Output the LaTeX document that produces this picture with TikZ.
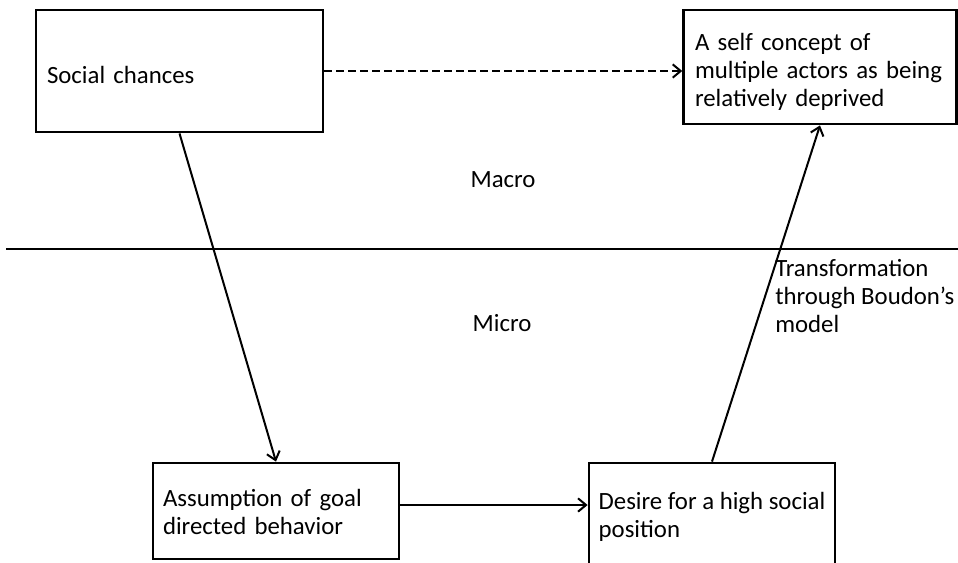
\documentclass[tikz,border=0pt]{standalone}
\usepackage{fontspec}
\setmainfont{Carlito}
\usepackage{tikz}
\usetikzlibrary{
  arrows.meta,
  positioning,
  calc,
}
\tikzset{
  levelbox/.style={
    rectangle, draw=black, line width=2.1pt, fill=white,
    inner xsep=7.5pt, inner ysep=0pt, align=left,
    font=\fontsize{18.6}{21}\selectfont,
  },
  levelLabel/.style={
    inner sep=0pt, align=left, font=\fontsize{18.6}{21}\selectfont,
  },
  arrowLink/.style={
    -{Straight Barb[length=6pt,width=10pt,line width=1.5pt]},
    line width=1.5pt, draw=black,
  },
  arrowDash/.style={
    arrowLink, dash pattern=on 6pt off 3pt,
  },
  divider/.style={
    line width=2.2pt, draw=black,
  },
}

\begin{document}
\begin{tikzpicture}[x=0.75pt,y=-0.75pt]
\useasboundingbox (0,0) rectangle (958,562);
\clip (0,0) rectangle (958,562);

% macro / micro divider
\coordinate (divL) at (6,249);
\coordinate (divR) at (958,249);
\draw[divider] (divL) -- (divR);

\node[levelLabel] (macro) at (503,180) {Macro};
\node[levelLabel] (micro) at (502,323) {Micro};

% boxes
\node[levelbox, minimum width=287*0.75pt, minimum height=122*0.75pt,
      text width=265*0.75pt, text height=19pt] (social) at (179.5,71) {%
  Social chances%
};
\node[levelbox, minimum width=270*0.75pt, minimum height=114*0.75pt,
      text width=250*0.75pt, inner xsep=8.5pt, text height=20pt] (selfc) at (820,67) {%
  A self concept of\\multiple actors as being\\relatively deprived%
};
\node[levelbox, minimum width=246*0.75pt, minimum height=96*0.75pt,
      text width=226*0.75pt, text height=15pt] (assume) at (276,511) {%
  Assumption of goal\\directed behavior%
};
\node[levelbox, minimum width=246*0.75pt, minimum height=112*0.75pt,
      inner xsep=4pt, text height=30pt] (desire) at (712,519) {%
  Desire for a high social\\position%
};

\node[levelLabel, anchor=north west] (transf) at (775,259) {%
  Transformation\\through Boudon's\\model%
};

% Flow arrows
\draw[arrowDash] (social.east) -- (social.east -| selfc.west);
\draw[arrowLink] (social.south) -- (assume.north);
\draw[arrowLink] ([yshift=4.5pt]assume.east) -- ([yshift=4.5pt]assume.east -| desire.west);
\draw[arrowLink] (desire.north) -- (selfc.south);

\end{tikzpicture}
\end{document}
